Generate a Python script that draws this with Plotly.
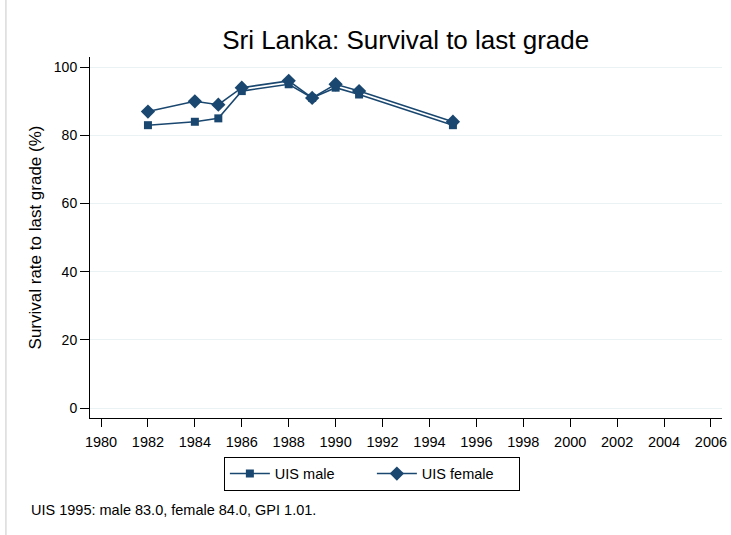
import plotly.graph_objs as go

years = [1982, 1984, 1985, 1986, 1988, 1989, 1990, 1991, 1995]
male = [83, 84, 85, 93, 95, 91, 94, 92, 83]
female = [87, 90, 89, 94, 96, 91, 95, 93, 84]

navy = '#1a476f'

fig = go.Figure()

fig.add_trace(go.Scatter(
    x = years, y = male,
    name = 'UIS male',
    mode = 'lines+markers',
    line = dict(color = navy, width = 1.6),
    marker = dict(symbol = 'square', size = 8, color = navy)
))

fig.add_trace(go.Scatter(
    x = years, y = female,
    name = 'UIS female',
    mode = 'lines+markers',
    line = dict(color = navy, width = 1.6),
    marker = dict(symbol = 'diamond', size = 11, color = navy)
))

fig.update_layout(
    width = 731,
    height = 535,
    margin = dict(l = 90, r = 9, t = 57, b = 117, autoexpand = False),
    plot_bgcolor = 'white',
    paper_bgcolor = 'white',
    font = dict(family = 'Liberation Sans', color = 'black', size = 14),
    title = dict(text = 'Sri Lanka: Survival to last grade', x = 0.555, xanchor = 'center',
                 y = 0.925, yanchor = 'middle', font = dict(size = 26)),
    showlegend = True,
    legend = dict(orientation = 'h', x = 0.446, xanchor = 'center', y = -0.107, yanchor = 'top',
                  bordercolor = 'black', borderwidth = 1, font = dict(size = 14.5),
                  itemwidth = 40, entrywidth = 92, tracegroupgap = 0),
    xaxis = dict(range = [1979.53, 2006.47], tickmode = 'array',
                 tickvals = list(range(1980, 2007, 2)),
                 tickfont = dict(size = 14.5),
                 showgrid = False, zeroline = False, automargin = False,
                 ticklabeloverflow = 'allow', ticklabelstandoff = 3,
                 showline = True, linecolor = 'black', linewidth = 1,
                 ticks = 'outside', ticklen = 8, tickcolor = 'black'),
    yaxis = dict(range = [-2.9, 103], tickvals = [0, 20, 40, 60, 80, 100],
                 tickfont = dict(size = 14),
                 title = dict(text = 'Survival rate to last grade (%)', font = dict(size = 17),
                              standoff = 7),
                 showgrid = True, gridcolor = '#eaf2f3', gridwidth = 1, zeroline = False,
                 automargin = False,
                 showline = True, linecolor = 'black', linewidth = 1,
                 ticks = 'outside', ticklen = 9, tickcolor = 'black'),
)

fig.add_annotation(
    text = 'UIS 1995: male 83.0, female 84.0, GPI 1.01.',
    xref = 'paper', yref = 'paper', x = -0.097, y = -0.255,
    xanchor = 'left', yanchor = 'middle', showarrow = False,
    font = dict(size = 14.5)
)

fig.add_shape(type = 'rect', xref = 'paper', yref = 'paper',
              x0 = -0.133, x1 = 1.5, y0 = -0.6, y1 = 1.5,
              line = dict(color = '#c8c8c8', width = 1))

# page body has a default 8px margin, drop it so the figure sits at the window corner
fig.write_html("out.html", config = dict(displayModeBar = False),
               post_script = "document.body.style.margin = '0';")
